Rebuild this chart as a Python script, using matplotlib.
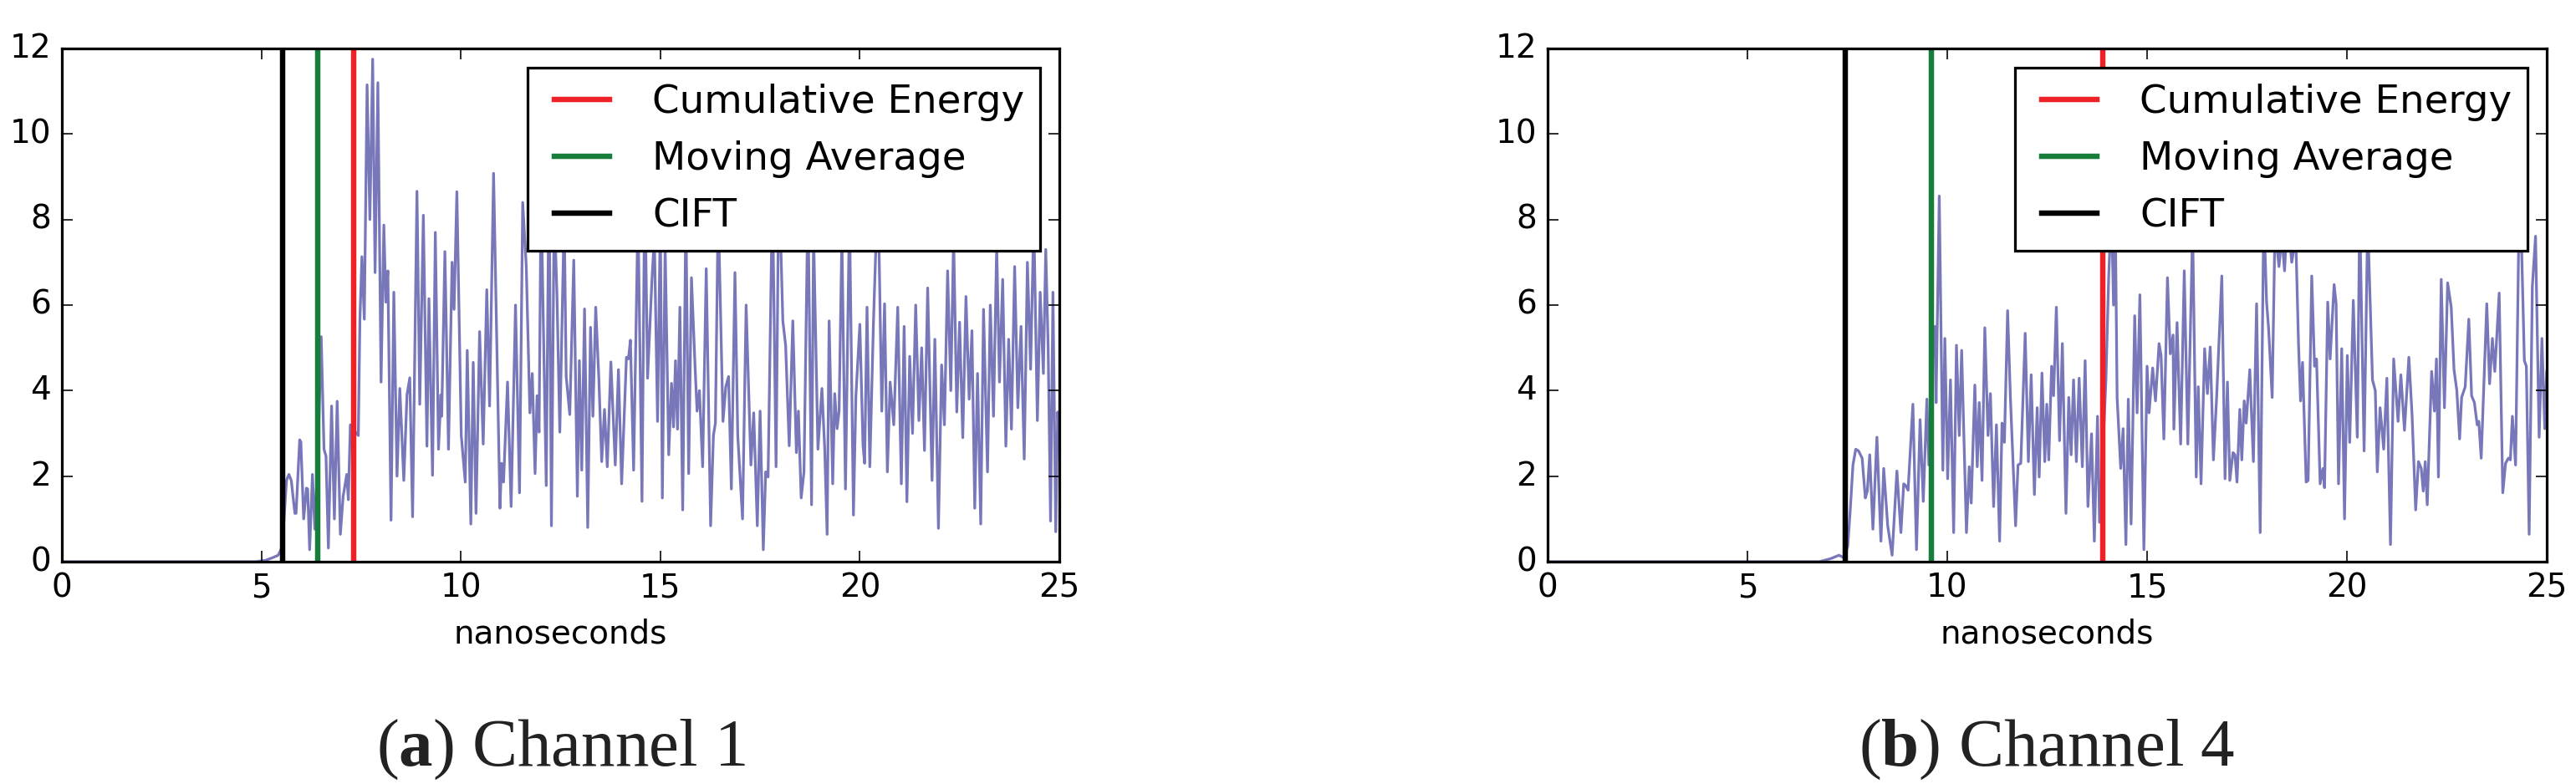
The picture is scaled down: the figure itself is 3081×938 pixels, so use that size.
import matplotlib
matplotlib.use("Agg")
import matplotlib.pyplot as plt

plt.style.use("classic")
plt.rcParams["font.family"] = ["DejaVu Sans"]
plt.rcParams["mathtext.fontset"] = "custom"
plt.rcParams["mathtext.rm"] = "Liberation Serif"
plt.rcParams["mathtext.bf"] = "Liberation Serif:bold"

# channel 1 channel impulse response magnitude
t1 = [0.0, 4.85, 5.10, 5.30, 5.42, 5.50, 5.56, 5.63, 5.69, 5.75,
      5.84, 5.87, 5.96, 5.99, 6.06, 6.13, 6.16, 6.21, 6.28, 6.34,
      6.42, 6.50, 6.57, 6.62, 6.68, 6.76, 6.83, 6.90, 6.98, 7.05,
      7.14, 7.18, 7.23, 7.30, 7.43, 7.47, 7.52, 7.58, 7.65, 7.72,
      7.79, 7.85, 7.92, 8.00, 8.07, 8.12, 8.17, 8.25, 8.32, 8.40,
      8.47, 8.57, 8.65, 8.72, 8.79, 8.90, 8.97, 9.06, 9.15, 9.20,
      9.29, 9.36, 9.44, 9.50, 9.52, 9.60, 9.69, 9.78, 9.83, 9.90,
      10.01, 10.11, 10.16, 10.25, 10.31, 10.38, 10.47, 10.56, 10.65, 10.72,
      10.82, 10.98, 11.02, 11.07, 11.17, 11.26, 11.37, 11.47, 11.55, 11.64,
      11.73, 11.79, 11.86, 11.91, 11.96, 12.01, 12.14, 12.21, 12.27, 12.34,
      12.41, 12.48, 12.59, 12.64, 12.73, 12.83, 12.92, 12.97, 13.03, 13.10,
      13.18, 13.25, 13.31, 13.38, 13.46, 13.53, 13.60, 13.67, 13.76, 13.87,
      13.95, 14.03, 14.15, 14.20, 14.25, 14.33, 14.44, 14.54, 14.61, 14.68,
      14.79, 14.85, 14.93, 15.00, 15.05, 15.12, 15.21, 15.28, 15.33, 15.38,
      15.43, 15.49, 15.56, 15.64, 15.71, 15.78, 15.87, 15.92, 15.98, 16.06,
      16.15, 16.26, 16.33, 16.38, 16.45, 16.57, 16.64, 16.71, 16.78, 16.87,
      16.94, 17.06, 17.15, 17.27, 17.34, 17.43, 17.50, 17.58, 17.64, 17.70,
      17.81, 17.90, 17.97, 18.07, 18.14, 18.23, 18.32, 18.41, 18.46, 18.53,
      18.60, 18.70, 18.79, 18.84, 18.95, 19.05, 19.12, 19.18, 19.23, 19.32,
      19.37, 19.43, 19.48, 19.55, 19.64, 19.74, 19.84, 19.90, 20.00, 20.08,
      20.12, 20.18, 20.25, 20.34, 20.41, 20.48, 20.55, 20.62, 20.69, 20.76,
      20.85, 20.95, 21.04, 21.11, 21.18, 21.25, 21.32, 21.40, 21.48, 21.55,
      21.62, 21.70, 21.81, 21.88, 21.97, 22.05, 22.12, 22.20, 22.28, 22.35,
      22.43, 22.50, 22.58, 22.66, 22.74, 22.81, 22.88, 22.95, 23.03, 23.10,
      23.20, 23.27, 23.35, 23.43, 23.50, 23.58, 23.66, 23.73, 23.80, 23.88,
      23.96, 24.04, 24.12, 24.20, 24.28, 24.36, 24.45, 24.52, 24.60, 24.66,
      24.72, 24.78, 24.84, 24.91, 24.96, 25.00]
amp1 = [0.0, 0.0, 0.03, 0.10, 0.15, 0.30, 0.90, 1.90, 2.04, 1.90,
        1.13, 1.13, 2.85, 2.80, 1.00, 1.72, 1.70, 0.28, 2.04, 0.76,
        2.60, 5.26, 2.63, 2.47, 0.32, 3.64, 1.00, 3.75, 0.64, 1.53,
        2.04, 1.45, 3.20, 3.10, 2.95, 5.67, 7.13, 5.67, 11.15, 8.00,
        11.75, 6.76, 11.20, 4.20, 7.87, 6.07, 6.80, 0.97, 6.30, 2.00,
        4.05, 1.90, 3.90, 4.30, 1.05, 8.66, 3.68, 8.10, 2.70, 6.15,
        2.02, 7.70, 2.63, 3.90, 3.40, 7.25, 2.63, 7.00, 5.90, 8.65,
        2.95, 1.86, 4.94, 0.88, 4.66, 1.13, 5.38, 2.75, 6.36, 3.64,
        9.08, 1.25, 2.30, 1.86, 4.20, 1.29, 6.00, 1.61, 8.40, 6.90,
        3.48, 4.40, 2.06, 3.88, 3.03, 8.60, 1.78, 9.20, 0.84, 8.30,
        6.20, 3.03, 8.10, 4.33, 3.44, 7.05, 1.53, 4.70, 2.14, 5.91,
        0.80, 5.48, 3.40, 5.95, 4.25, 2.34, 3.56, 2.22, 4.67, 2.26,
        4.49, 1.82, 4.78, 4.74, 5.18, 2.14, 8.20, 1.41, 9.00, 4.29,
        6.60, 7.60, 3.28, 8.10, 1.49, 7.40, 2.50, 4.17, 3.15, 4.70,
        3.10, 5.95, 1.21, 8.20, 2.06, 6.64, 4.57, 3.52, 4.00, 2.22,
        6.85, 0.84, 2.95, 3.24, 8.30, 3.28, 4.09, 4.33, 1.70, 6.76,
        2.95, 1.00, 6.00, 2.26, 3.48, 0.84, 3.52, 0.28, 2.10, 1.98,
        8.70, 2.22, 9.10, 5.63, 5.06, 2.71, 5.63, 2.55, 3.52, 1.49,
        2.10, 8.50, 1.33, 7.70, 2.63, 4.05, 2.63, 0.64, 5.63, 1.82,
        3.93, 3.11, 3.52, 7.60, 1.70, 8.20, 1.09, 3.85, 5.55, 2.71,
        2.30, 5.95, 2.22, 5.55, 7.60, 7.40, 3.52, 6.03, 2.10, 4.20,
        3.20, 5.95, 1.82, 5.50, 1.40, 4.80, 3.00, 6.00, 3.30, 5.00,
        2.60, 6.40, 1.90, 5.20, 0.78, 4.60, 3.20, 6.80, 4.00, 7.60,
        3.50, 5.60, 2.90, 6.20, 3.80, 5.40, 1.25, 4.40, 0.88, 5.90,
        2.10, 6.00, 3.40, 7.40, 4.20, 6.60, 2.70, 5.20, 3.10, 6.90,
        3.60, 5.50, 2.40, 7.00, 4.50, 8.00, 3.30, 6.30, 4.40, 7.30,
        5.00, 0.95, 6.30, 0.70, 3.50, 2.60]

# channel 4
t4 = [0.0, 6.80, 7.08, 7.29, 7.40, 7.45, 7.51, 7.57, 7.64, 7.71,
      7.78, 7.87, 7.95, 8.00, 8.06, 8.14, 8.24, 8.34, 8.41, 8.51,
      8.62, 8.74, 8.84, 8.91, 8.96, 9.02, 9.14, 9.23, 9.32, 9.40,
      9.49, 9.54, 9.61, 9.69, 9.72, 9.80, 9.89, 9.94, 10.01, 10.08,
      10.16, 10.23, 10.30, 10.36, 10.48, 10.55, 10.60, 10.69, 10.75, 10.80,
      10.87, 10.94, 11.02, 11.08, 11.16, 11.23, 11.31, 11.37, 11.43, 11.51,
      11.58, 11.71, 11.77, 11.84, 11.95, 12.03, 12.10, 12.18, 12.25, 12.30,
      12.37, 12.44, 12.49, 12.54, 12.61, 12.66, 12.73, 12.81, 12.88, 12.97,
      13.04, 13.10, 13.16, 13.23, 13.30, 13.38, 13.45, 13.52, 13.61, 13.68,
      13.76, 13.81, 13.89, 13.97, 14.04, 14.11, 14.16, 14.20, 14.25, 14.34,
      14.40, 14.47, 14.53, 14.60, 14.69, 14.75, 14.82, 14.92, 15.00, 15.05,
      15.14, 15.21, 15.30, 15.35, 15.42, 15.51, 15.58, 15.65, 15.67, 15.75,
      15.84, 15.93, 16.02, 16.14, 16.23, 16.28, 16.35, 16.44, 16.51, 16.58,
      16.66, 16.74, 16.87, 16.95, 17.01, 17.07, 17.15, 17.20, 17.25, 17.32,
      17.37, 17.43, 17.48, 17.57, 17.66, 17.74, 17.83, 17.92, 17.99, 18.04,
      18.13, 18.20, 18.30, 18.37, 18.44, 18.51, 18.62, 18.72, 18.79, 18.84,
      18.89, 18.98, 19.03, 19.12, 19.19, 19.24, 19.33, 19.40, 19.44, 19.52,
      19.58, 19.68, 19.73, 19.79, 19.87, 19.94, 20.01, 20.07, 20.16, 20.26,
      20.32, 20.43, 20.52, 20.64, 20.71, 20.76, 20.83, 20.92, 21.00, 21.09,
      21.17, 21.28, 21.35, 21.44, 21.55, 21.63, 21.72, 21.79, 21.86, 21.91,
      21.96, 22.01, 22.12, 22.19, 22.24, 22.29, 22.36, 22.44, 22.52, 22.61,
      22.68, 22.75, 22.82, 22.87, 22.96, 23.05, 23.12, 23.19, 23.26, 23.30,
      23.36, 23.43, 23.50, 23.57, 23.64, 23.70, 23.74, 23.81, 23.90, 23.97,
      24.04, 24.09, 24.14, 24.22, 24.30, 24.37, 24.44, 24.49, 24.56, 24.64,
      24.72, 24.81, 24.88, 24.95, 25.00]
amp4 = [0.0, 0.0, 0.07, 0.15, 0.10, 0.20, 0.36, 1.17, 2.26, 2.63,
        2.59, 2.42, 1.49, 1.65, 2.50, 0.76, 2.91, 0.48, 2.18, 0.84,
        0.15, 2.12, 0.68, 1.82, 1.78, 1.67, 3.68, 0.28, 3.32, 1.41,
        3.80, 2.26, 4.50, 5.50, 3.72, 8.55, 2.14, 5.22, 1.94, 4.25,
        0.68, 5.06, 2.95, 4.94, 0.68, 2.22, 1.37, 4.13, 2.22, 3.72,
        1.90, 5.47, 2.95, 3.93, 1.29, 3.20, 0.48, 3.24, 2.79, 5.87,
        3.84, 0.84, 2.26, 2.30, 5.34, 2.34, 4.37, 1.57, 3.60, 1.98,
        4.41, 2.34, 3.68, 2.38, 4.57, 3.88, 5.95, 2.83, 5.10, 1.13,
        3.84, 2.50, 4.25, 2.34, 4.29, 2.22, 4.70, 1.29, 2.99, 0.48,
        3.40, 0.92, 2.50, 4.25, 6.68, 8.30, 6.00, 8.50, 3.84, 2.18,
        3.11, 0.40, 3.80, 0.88, 5.75, 3.48, 6.24, 0.28, 4.57, 3.48,
        4.53, 3.76, 5.10, 4.82, 2.87, 6.64, 4.86, 5.30, 3.10, 5.59,
        2.75, 6.80, 2.75, 7.80, 1.98, 4.09, 1.82, 4.98, 3.93, 5.02,
        2.38, 3.84, 6.68, 1.94, 4.20, 1.90, 2.55, 2.50, 1.86, 3.56,
        2.38, 3.76, 3.24, 4.49, 2.34, 6.03, 0.68, 8.20, 6.07, 5.46,
        3.84, 7.80, 6.90, 7.60, 6.80, 8.10, 7.00, 7.60, 5.06, 3.76,
        4.66, 1.86, 1.90, 6.68, 4.57, 4.74, 1.82, 2.18, 1.73, 6.07,
        4.74, 6.48, 6.03, 1.82, 4.98, 1.00, 4.82, 2.79, 6.11, 2.91,
        8.20, 2.59, 8.00, 4.25, 4.00, 2.10, 3.60, 2.63, 4.29, 0.40,
        4.74, 3.28, 4.37, 3.07, 4.78, 3.44, 1.21, 2.34, 2.18, 1.65,
        2.34, 1.33, 4.45, 3.52, 4.74, 1.98, 6.60, 3.60, 6.52, 5.95,
        4.49, 4.00, 2.87, 3.84, 4.09, 5.67, 3.88, 3.72, 3.20, 3.28,
        2.42, 4.25, 6.03, 4.16, 5.22, 4.45, 5.10, 6.28, 1.61, 2.30,
        2.42, 2.38, 3.40, 2.26, 7.60, 7.40, 4.70, 4.57, 0.64, 6.44,
        7.61, 2.91, 5.22, 3.11, 4.45]

# detected first path per method (ns)
cum_energy = [7.32, 13.89]
moving_avg = [6.42, 9.61]
cift = [5.54, 7.44]
captions = ["a", "b"]
channels = ["Channel 1", "Channel 4"]

DPI = 233
fig = plt.figure(figsize=(3081 / DPI, 938 / DPI), dpi=DPI, facecolor="white")
ax_a = fig.add_axes([74 / 3081, 266 / 938, 1193 / 3081, 614 / 938])
ax_b = fig.add_axes([1851 / 3081, 266 / 938, 1195 / 3081, 614 / 938])

series = [(t1, amp1), (t4, amp4)]
for i, ax in enumerate([ax_a, ax_b]):
    t, amp = series[i]
    ax.plot(t, amp, color="#7777b9", lw=1.0)
    ax.axvline(cum_energy[i], color="#ee2126", lw=2, label="Cumulative Energy")
    ax.axvline(moving_avg[i], color="#167d3b", lw=2, label="Moving Average")
    ax.axvline(cift[i], color="black", lw=2, label="CIFT")
    ax.set_xlim(0, 25)
    ax.set_ylim(0, 12)
    ax.set_xticks([0, 5, 10, 15, 20, 25])
    ax.set_yticks([0, 2, 4, 6, 8, 10, 12])
    ax.tick_params(labelsize=12)
    ax.set_xlabel("nanoseconds", fontsize=12)
    ax.legend(loc="upper right", fontsize=14.4)

    # sub-figure caption
    pos = ax.get_position()
    fig.text((pos.x0 + pos.x1) / 2, 0.024,
             r"($\mathbf{%s}$) %s" % (captions[i], channels[i]),
             family="Liberation Serif", fontsize=25,
             ha="center", va="baseline", color="#222222")

fig.savefig("out.png", dpi=DPI, facecolor="white")
